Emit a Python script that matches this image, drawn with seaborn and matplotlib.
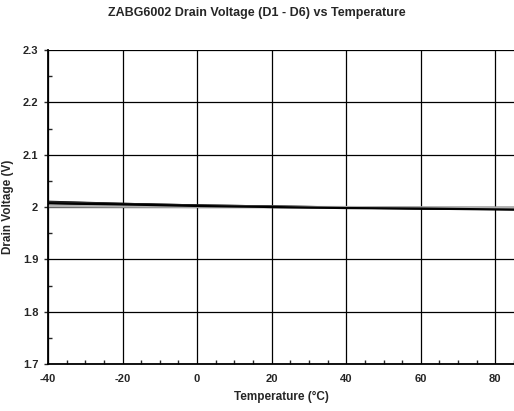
import matplotlib
matplotlib.use("Agg")
import matplotlib.pyplot as plt
import pandas as pd
import numpy as np
import seaborn as sns

# Temperature sweep and drain voltage of each drain
temperature = [-40, -20, 0, 20, 40, 60, 85]
d1 = [2.010, 2.006, 2.003, 2.001, 1.999, 1.998, 1.997]
d2 = [2.008, 2.005, 2.002, 2.000, 1.999, 1.997, 1.996]
d3 = [2.009, 2.006, 2.003, 2.001, 1.999, 1.998, 1.996]
d4 = [2.001, 2.001, 2.000, 2.000, 1.999, 1.999, 1.999]
d5 = [2.002, 2.001, 2.001, 2.000, 2.000, 1.999, 1.998]
d6 = [2.007, 2.005, 2.002, 2.000, 1.998, 1.997, 1.995]
series_names = ["D1", "D2", "D3", "D4", "D5", "D6"]
series_colors = ["black", "black", "#333333", "#9a9a9a", "#b0b0b0", "black"]

df = pd.DataFrame({"Temperature": temperature, "D1": d1, "D2": d2, "D3": d3,
                   "D4": d4, "D5": d5, "D6": d6})
long = df.melt(id_vars="Temperature", var_name="Drain", value_name="Voltage")

sns.set_style("white")
plt.rcParams['font.family'] = ['Liberation Sans', 'DejaVu Sans']
plt.rcParams['axes.unicode_minus'] = False

fig = plt.figure(figsize=(5.14, 4.11), dpi=100)
ax = fig.add_axes([48 / 514, 1 - 364 / 411, (514 - 48) / 514, (364 - 50) / 411])

sns.lineplot(data=long, x="Temperature", y="Voltage", hue="Drain",
             hue_order=series_names, palette=dict(zip(series_names, series_colors)),
             linewidth=1.6, legend=False, ax=ax)

ax.set_xlim(-40, 85)
ax.set_ylim(1.7, 2.3)
ax.set_xticks([-40, -20, 0, 20, 40, 60, 80])
ax.set_yticks([1.7, 1.8, 1.9, 2.0, 2.1, 2.2, 2.3])
ax.set_yticklabels(["1.7", "1.8", "1.9", "2", "2.1", "2.2", "2.3"])
ax.set_xticks(np.arange(-40, 86, 5), minor=True)
ax.set_yticks(np.arange(1.7, 2.3, 0.05), minor=True)
ax.grid(True, which="major", color="black", linewidth=0.9)
ax.tick_params(which="major", direction="out", length=3, width=1, labelsize=8,
               bottom=False, left=True, pad=4)
ax.tick_params(which="minor", direction="in", length=3, width=1, bottom=True, left=True)
for lbl in ax.get_xticklabels() + ax.get_yticklabels():
    lbl.set_fontweight("bold")
for side in ["left", "bottom"]:
    ax.spines[side].set_color("black")
    ax.spines[side].set_linewidth(1.3)
ax.spines["top"].set_visible(False)
ax.spines["right"].set_visible(False)

ax.set_xlabel("Temperature (°C)", fontsize=8.5, fontweight="bold", labelpad=5)
ax.set_ylabel("Drain Voltage (V)", fontsize=8.5, fontweight="bold", labelpad=6)
fig.suptitle("ZABG6002 Drain Voltage (D1 - D6) vs Temperature", fontsize=9,
             fontweight="bold", y=1 - 7 / 411)

fig.savefig("out.png", dpi=100)
